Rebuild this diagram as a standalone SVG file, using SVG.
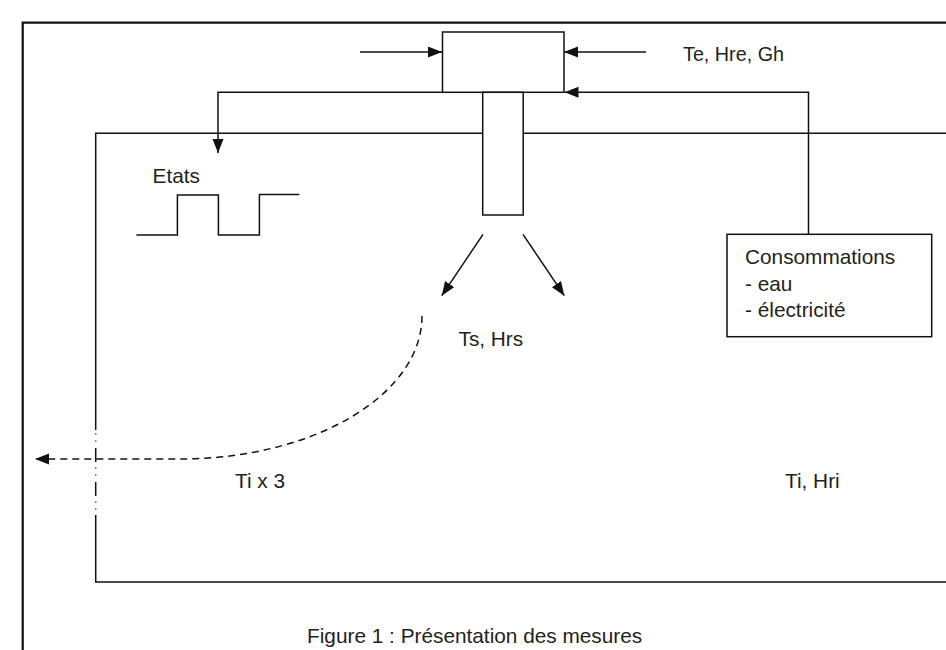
<svg xmlns="http://www.w3.org/2000/svg" width="946" height="650" viewBox="0 0 946 650">
<style>
  .ln { fill: none; stroke: #111111; stroke-width: 1.5; }
  .box { fill: #ffffff; stroke: #111111; stroke-width: 1.5; }
  .frame { fill: none; stroke: #111111; stroke-width: 2.2; }
  .dash { fill: none; stroke: #111111; stroke-width: 1.5; stroke-dasharray: 7 5; }
  .lbl { font-family: "Liberation Sans", Arial, sans-serif; font-size: 20.8px; fill: #231f20; }
</style>
<defs>
  <marker id="ah" markerUnits="userSpaceOnUse" markerWidth="15" markerHeight="12" refX="14" refY="5.5" orient="auto">
    <path d="M0,0 L14,5.5 L0,11 z" fill="#111111"/>
  </marker>
</defs>
<rect width="946" height="650" fill="#ffffff"/>

<g id="outer-frame">
  <path class="frame" d="M22.7,660 V22.7 H960"/>
</g>

<g id="room">
  <path class="ln" d="M960,133.3 H95.7 V430"/>
  <path class="ln" d="M95.7,430 V515" stroke-dasharray="14 5.5 1 6 1 6.5" stroke-dashoffset="16"/>
  <path class="ln" d="M95.7,515 V582 H960"/>
</g>

<g id="connectors">
  <path class="ln" d="M360,52 H442" marker-end="url(#ah)"/>
  <path class="ln" d="M646,52 H564" marker-end="url(#ah)"/>
  <path class="ln" d="M442.5,92.3 H218 V153" marker-end="url(#ah)"/>
  <path class="ln" d="M808.5,234.3 V92.3 H564.5" marker-end="url(#ah)"/>
  <path class="ln" d="M483,234.3 L441.8,295.7" marker-end="url(#ah)"/>
  <path class="ln" d="M523,234.3 L564.3,295.7" marker-end="url(#ah)"/>
  <path class="dash" d="M422,316 A242,143 0 0 1 180,459 H35" marker-end="url(#ah)"/>
</g>

<g id="unit">
  <rect class="box" x="442.5" y="32" width="121.5" height="60.3"/>
</g>

<g id="duct">
  <rect class="box" x="482.7" y="92.3" width="40.5" height="122.7"/>
</g>

<g id="etats">
  <path class="ln" d="M136.4,235 H177.4 V195 H218.4 V235 H259.4 V194.5 H299.3"/>
  <text class="lbl" x="152.6" y="182.7">Etats</text>
</g>

<g id="consommations">
  <rect class="box" x="727" y="234.3" width="204.7" height="102.4"/>
  <text class="lbl" x="745" y="264.3">Consommations</text>
  <text class="lbl" x="745" y="290.7">- eau</text>
  <text class="lbl" x="745" y="317.3">- électricité</text>
</g>

<g id="labels">
  <text class="lbl" x="683" y="61" textLength="101" lengthAdjust="spacingAndGlyphs">Te, Hre, Gh</text>
  <text class="lbl" x="458.5" y="345.7">Ts, Hrs</text>
  <text class="lbl" x="235" y="488.3">Ti x 3</text>
  <text class="lbl" x="785" y="488.3">Ti, Hri</text>
  <text class="lbl" x="307" y="642.5">Figure 1 : Présentation des mesures</text>
</g>
</svg>
